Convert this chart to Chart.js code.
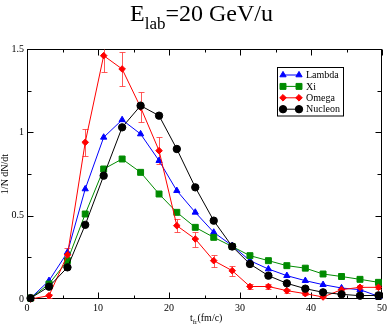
<!DOCTYPE html>
<html>
<head>
<meta charset="utf-8">
<script src="https://cdn.jsdelivr.net/npm/chart.js@4.4.0/dist/chart.umd.min.js"></script>
<style>
  body { margin: 0; background: #fff; }
  #wrap { position: relative; width: 390px; height: 326px; font-family: 'Liberation Serif', serif; color: #000; }
  #title { position: absolute; left: 130px; top: 1px; font-size: 24px; line-height: 24px; white-space: nowrap; }
  #title .sub { font-size: 17px; position: relative; top: 7.5px; }
  #xlab { position: absolute; left: 190px; top: 313px; font-size: 10px; line-height: 10px; white-space: nowrap; }
  #xlab .sub { font-size: 7px; position: relative; top: 3px; }
</style>
</head>
<body>
<div id="wrap">
  <canvas id="chart" width="390" height="326"></canvas>
  <div id="title">E<span class="sub">lab</span>=20 GeV/u</div>
  <div id="xlab">t<span class="sub">fr</span>(fm/c)</div>
</div>
<script>
// freeze-out time bins (fm/c)
const tfr = [0.5, 3.1, 5.7, 8.2, 10.8, 13.4, 16.0, 18.6, 21.1, 23.7, 26.3, 28.9, 31.4, 34.0, 36.6, 39.2, 41.7, 44.3, 46.9, 49.5];

const lambda  = [0.005, 0.11, 0.28, 0.66, 0.97, 1.075, 0.99, 0.83, 0.65, 0.52, 0.40, 0.32, 0.23, 0.18, 0.14, 0.11, 0.086, 0.066, 0.056, 0.016];
const xi      = [0.005, 0.09, 0.23, 0.51, 0.78, 0.84, 0.76, 0.63, 0.52, 0.43, 0.37, 0.315, 0.26, 0.23, 0.20, 0.185, 0.15, 0.135, 0.118, 0.10];
const omega   = [0.0, 0.02, 0.265, 0.94, 1.46, 1.38, 1.15, 0.89, 0.44, 0.36, 0.23, 0.17, 0.075, 0.075, 0.05, 0.032, 0.012, 0.056, 0.07, 0.07];
const omegaErr = [0.005, 0.012, 0.04, 0.08, 0.1, 0.1, 0.09, 0.08, 0.04, 0.045, 0.035, 0.03, 0.015, 0.015, 0.012, 0.01, 0.008, 0.012, 0.012, 0.012];
const nucleon = [0.005, 0.074, 0.19, 0.445, 0.74, 1.03, 1.16, 1.10, 0.90, 0.67, 0.47, 0.315, 0.21, 0.14, 0.094, 0.062, 0.04, 0.028, 0.02, 0.022];

const seriesNames = ['Lambda', 'Xi', 'Omega', 'Nucleon'];

// axis ticks
const xMajor = [0, 10, 20, 30, 40, 50];
const xMinor = [5, 15, 25, 35, 45];
const yMajor = [0, 0.5, 1, 1.5];
const yMinor = [0.25, 0.75, 1.25];

function pts(ys) {
  return ys.map((y, i) => ({ x: tfr[i], y: y }));
}

function series(label, ys, color, style, r, order) {
  return {
    label: label,
    data: pts(ys),
    borderColor: color,
    backgroundColor: color,
    borderWidth: 1,
    pointStyle: style,
    pointRadius: r,
    pointBorderWidth: 1,
    pointBackgroundColor: color,
    pointBorderColor: color,
    tension: 0,
    clip: false,
    order: order
  };
}

const datasets = [
  series('Lambda', lambda, '#0000ff', 'triangle', 3.6, 3),
  series('Xi', xi, '#008b00', 'rect', 4.2, 2),
  series('Omega', omega, '#ff0000', 'rectRot', 3.3, 1),
  series('Nucleon', nucleon, '#000000', 'circle', 3.7, 0)
];

// frame with inward ticks on all four sides, plus error bars on Omega
const framePlugin = {
  id: 'frame',
  beforeDatasetsDraw(chart) {
    const ctx = chart.ctx;
    const a = chart.chartArea;
    const xs = chart.scales.x, ys = chart.scales.y;
    ctx.save();
    ctx.strokeStyle = '#000';
    ctx.lineWidth = 1;
    const L = Math.round(a.left) + 0.5, R = Math.round(a.right) - 0.5;
    const T = Math.round(a.top) + 0.5, B = Math.round(a.bottom) - 0.5;
    ctx.strokeRect(L, T, R - L, B - T);
    ctx.beginPath();
    function xt(v, len) {
      const px = Math.round(xs.getPixelForValue(v)) + 0.5;
      ctx.moveTo(px, B); ctx.lineTo(px, B - len);
      ctx.moveTo(px, T); ctx.lineTo(px, T + len);
    }
    function yt(v, len) {
      const py = Math.round(ys.getPixelForValue(v)) + 0.5;
      ctx.moveTo(L, py); ctx.lineTo(L + len, py);
      ctx.moveTo(R, py); ctx.lineTo(R - len, py);
    }
    xMajor.forEach(v => xt(v, 6));
    xMinor.forEach(v => xt(v, 3));
    yMajor.forEach(v => yt(v, 6));
    yMinor.forEach(v => yt(v, 4));
    ctx.stroke();

    // error bars
    ctx.strokeStyle = 'rgba(255,60,60,0.85)';
    ctx.beginPath();
    omega.forEach((v, i) => {
      const px = Math.round(xs.getPixelForValue(tfr[i])) + 0.5;
      const hi = Math.min(v + omegaErr[i], 1.5);
      const y1 = Math.round(ys.getPixelForValue(v - omegaErr[i])) + 0.5;
      const y2 = Math.round(ys.getPixelForValue(hi)) + 0.5;
      ctx.moveTo(px, y1); ctx.lineTo(px, y2);
      ctx.moveTo(px - 3, y1); ctx.lineTo(px + 3, y1);
      if (v + omegaErr[i] <= 1.5) { ctx.moveTo(px - 3, y2); ctx.lineTo(px + 3, y2); }
    });
    ctx.stroke();
    ctx.restore();
  }
};

// legend box: line with a marker at both ends
const legendPlugin = {
  id: 'boxLegend',
  afterDraw(chart) {
    const ctx = chart.ctx;
    ctx.save();
    ctx.fillStyle = '#fff';
    ctx.fillRect(277, 67, 66, 49);
    ctx.strokeStyle = '#000';
    ctx.lineWidth = 1;
    ctx.strokeRect(277.5, 67.5, 66, 48.5);
    ctx.font = '10px "Liberation Serif"';
    ctx.textBaseline = 'middle';
    seriesNames.forEach((name, i) => {
      const ds = datasets[i];
      const y = 75 + i * 11.4;
      ctx.strokeStyle = ds.borderColor;
      ctx.fillStyle = ds.borderColor;
      ctx.beginPath();
      ctx.moveTo(283, y); ctx.lineTo(299, y);
      ctx.stroke();
      [283, 299].forEach(x => {
        Chart.helpers.drawPoint(ctx, { pointStyle: ds.pointStyle, radius: ds.pointRadius, borderWidth: 1, rotation: 0 }, x, y);
      });
      ctx.fillStyle = '#000';
      ctx.fillText(name, 306, y + 0.5);
    });
    ctx.restore();
  }
};

new Chart(document.getElementById('chart'), {
  type: 'line',
  data: { datasets: datasets },
  options: {
    responsive: false,
    animation: false,
    layout: { padding: { top: 49, right: 6, left: 0, bottom: 0 } },
    plugins: {
      legend: { display: false },
      tooltip: { enabled: false }
    },
    scales: {
      x: {
        type: 'linear',
        min: 0,
        max: 50,
        ticks: { stepSize: 10, padding: 3, color: '#000', font: { family: 'Liberation Serif', size: 10 }, maxRotation: 0 },
        grid: { display: false, drawTicks: false },
        border: { display: false },
        afterFit(scale) { scale.height = 27; }
      },
      y: {
        min: 0,
        max: 1.5,
        ticks: { stepSize: 0.5, padding: 3, color: '#000', font: { family: 'Liberation Serif', size: 10 }, callback: v => String(v) },
        grid: { display: false, drawTicks: false },
        border: { display: false },
        title: { display: true, text: '1/N dN/dt', color: '#000', padding: 0, font: { family: 'Liberation Serif', size: 10, lineHeight: 1 } },
        afterFit(scale) { scale.width = 27; }
      }
    }
  },
  plugins: [framePlugin, legendPlugin]
});
</script>
</body>
</html>
